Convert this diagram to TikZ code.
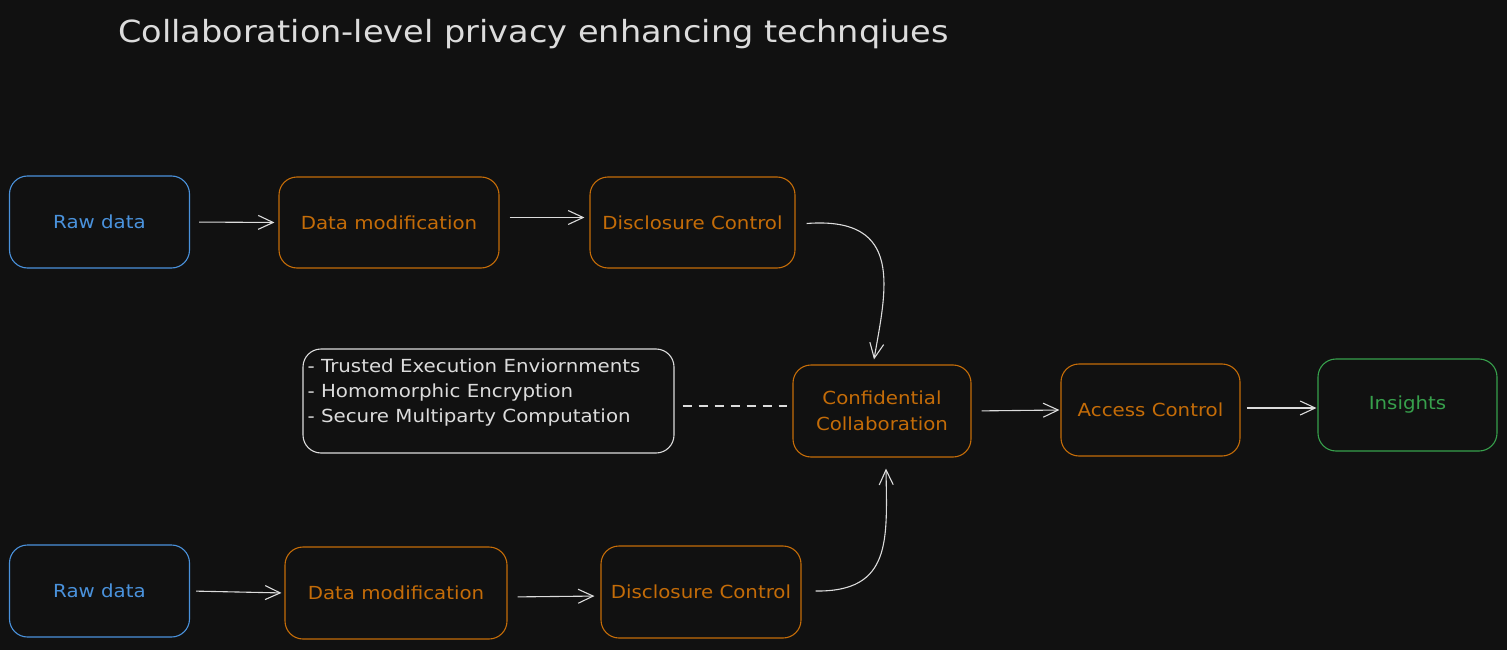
\documentclass[tikz,border=0pt]{standalone}
\usepackage{fontspec}
\setmainfont{DejaVu Sans}[FakeStretch=1.1]
\usetikzlibrary{arrows.meta}
\definecolor{bg}{HTML}{111111}
\definecolor{cblue}{HTML}{4A92DC}
\definecolor{corange}{HTML}{C46C08}
\definecolor{cgreen}{HTML}{37A04C}
\definecolor{cline}{HTML}{DCDCDC}
\begin{document}
\begin{tikzpicture}[x=1pt,y=-1pt,
  box/.style={draw=#1, text=#1, rounded corners=18pt, line width=1.1pt,
    font=\fontsize{18}{26}\selectfont, inner sep=0pt, align=center,
    minimum width=180pt, minimum height=92pt},
  arr/.style={draw=cline, line width=1.1pt,
    -{Straight Barb[length=15pt,width=14pt,line width=1.1pt]}},
  dashline/.style={draw=cline, line width=1.1pt, dash pattern=on 9pt off 7pt},
  listtxt/.style={text=cline, font=\fontsize{18}{25}\selectfont, align=left, inner sep=0pt}
]
\fill[bg] (0,0) rectangle (1507,650);
\useasboundingbox (0,0) rectangle (1507,650);

\node[anchor=base west, text=cline, font=\fontsize{30.5}{36}\selectfont, inner sep=0pt] (title) at (118,43) {Collaboration-level privacy enhancing technqiues};

% top row
\node[box=cblue] (raw1) at (99.5,222) {Raw data};
\node[box=corange, minimum width=220pt, minimum height=91pt] (dm1) at (389,222.5) {Data modification};
\node[box=corange, minimum width=205pt, minimum height=91pt] (dc1) at (692.5,222.5) {Disclosure Control};

% bottom row
\node[box=cblue] (raw2) at (99.5,591) {Raw data};
\node[box=corange, minimum width=222pt] (dm2) at (396,593) {Data modification};
\node[box=corange, minimum width=200pt] (dc2) at (701,592) {Disclosure Control};

% middle
\node[box=corange, minimum width=178pt] (cc) at (882,411) {Confidential\\Collaboration};
\node[box=corange, minimum width=179pt] (ac) at (1150.5,410) {Access Control};
\node[box=cgreen, minimum width=179pt] (ins) at (1407.5,405) {Insights};

\node[draw=cline, rounded corners=18pt, line width=1.1pt, minimum width=371pt, minimum height=104pt, inner sep=0pt] (tb) at (488.5,401) {};
\node[listtxt, anchor=north west] (tbtext) at ([shift={(5,10)}]tb.north west) {- Trusted Execution Enviornments\\- Homomorphic Encryption\\- Secure Multiparty Computation};

% connectors
\draw[arr, shorten <=9pt, shorten >=4pt] (raw1.east) -- (dm1.west);
\draw[arr, shorten <=10pt, shorten >=5pt] ([yshift=5pt]dm1.east) -- ([yshift=5pt]dc1.west);
\draw[arr] ([shift={(11,1)}]dc1.east) .. controls (905,216) and (886,290) .. ([shift={(-8,-5)}]cc.north);
\draw[dashline] ([shift={(8,5)}]tb.east) -- ([shift={(-5,-5)}]cc.west);
\draw[arr, shorten <=10pt, shorten >=1pt] (cc.east) -- (ac.west);
\draw[arr, shorten <=6pt, shorten >=1pt] ([yshift=2pt]ac.east) -- ([yshift=-3pt]ins.west);
\draw[arr, shorten <=6pt, shorten >=3pt] (raw2.east) -- (dm2.west);
\draw[arr, shorten <=10pt, shorten >=6pt] ([yshift=-4pt]dm2.east) -- ([yshift=-4pt]dc2.west);
\draw[arr] ([shift={(14,-1)}]dc2.east) .. controls (892,592) and (887,540) .. ([shift={(4,11)}]cc.south);
\end{tikzpicture}
\end{document}
